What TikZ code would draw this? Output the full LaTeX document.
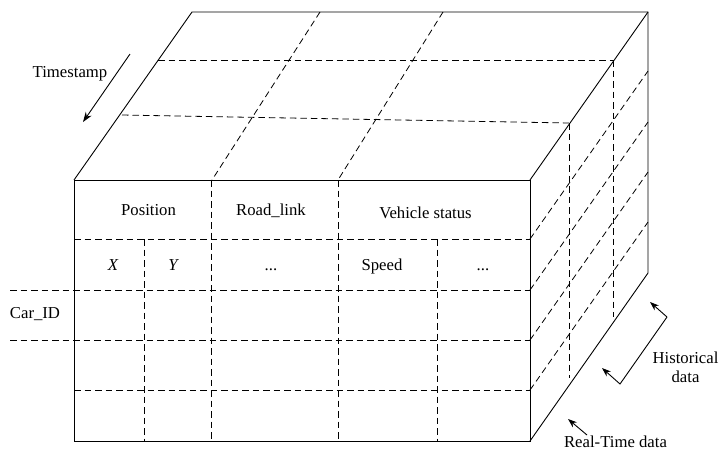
\documentclass[tikz,border=0pt]{standalone}
\usepackage{fontspec}
\setmainfont{Liberation Serif}
\usetikzlibrary{arrows.meta}
\begin{document}
\begin{tikzpicture}[x=1pt,y=-1pt,
  solidline/.style={line width=0.9pt,line join=miter},
  dashline/.style={line width=0.8pt,dash pattern=on 6.5pt off 4pt},
  lbl/.style={font=\fontsize{16.7}{19}\selectfont, inner sep=0pt, anchor=base},
  arr/.style={line width=0.9pt,-{Stealth[length=10pt,width=7pt]}},
  arrs/.style={line width=0.9pt,-{Stealth[length=9pt,width=6.5pt]}}]
\useasboundingbox (0,0) rectangle (719,451);
% cube corners
\coordinate (FTL) at (74,180);
\coordinate (FTR) at (530,180);
\coordinate (FBL) at (74,441);
\coordinate (FBR) at (530,441);
\coordinate (BTL) at (192,12);
\coordinate (BTR) at (648,12);
\coordinate (BBR) at (648,273);
% front face grid
\draw[dashline] (74,239) -- (530,239);
\draw[dashline] (10,290) -- (530,290);
\draw[dashline] (10,340) -- (530,340);
\draw[dashline] (74,390) -- (530,390);
\draw[dashline] (144,239) -- (144,441);
\draw[dashline] (211,180) -- (211,441);
\draw[dashline] (338,180) -- (338,441);
\draw[dashline] (437,239) -- (437,441);
% top face grid
\draw[dashline] (158,60) -- (614,60);
\draw[dashline] (122,115) -- (569,123);
\draw[dashline] (320,12) -- (212,180);
\draw[dashline] (443,12) -- (338,180);
% right face grid
\draw[dashline] (530,239) -- (648,71);
\draw[dashline] (530,290) -- (648,122);
\draw[dashline] (530,340) -- (648,172);
\draw[dashline] (530,390) -- (648,222);
\draw[dashline] (569,123) -- (569,378);
\draw[dashline] (613,60) -- (613,317);
% cube outline
\draw[solidline] (FTL) rectangle (FBR);
\draw[solidline] (FTL) -- (BTL) -- (BTR) -- (BBR) -- (FBR);
\draw[solidline] (FTR) -- (BTR);
% labels
\node[lbl] (pos) at (148.5,215) {Position};
\node[lbl] (road) at (271,215.5) {Road\_link};
\node[lbl] (veh) at (425.5,218) {Vehicle status};
\node[lbl] (x) at (113,270) {\itshape X};
\node[lbl] (y) at (173,270) {\itshape Y};
\node[lbl] (dots1) at (271,270) {...};
\node[lbl] (speed) at (382,270) {Speed};
\node[lbl] (dots2) at (483,270) {...};
\node[lbl] (car) at (35,318) {Car\_ID};
\node[lbl] (ts) at (70,77) {Timestamp};
\node[lbl] (hist) at (685.5,363) {Historical};
\node[lbl] (histd) at (685.5,382) {data};
\node[lbl] (rt) at (615.5,447) {Real-Time data};
% arrows
\coordinate (tsA) at (130,54);
\coordinate (tsB) at (83,122);
\draw[arr] (tsA) -- (tsB);
\coordinate (hA) at (667,317);
\coordinate (hB) at (620,384);
\coordinate (hT1) at (650,302);
\coordinate (hT2) at (602,368);
\draw[arrs] (hA) -- (hT1);
\draw[arrs] (hA) -- (hB) -- (hT2);
\coordinate (rA) at (587,435);
\coordinate (rB) at (568,419);
\draw[arrs] (rA) -- (rB);
\end{tikzpicture}
\end{document}
